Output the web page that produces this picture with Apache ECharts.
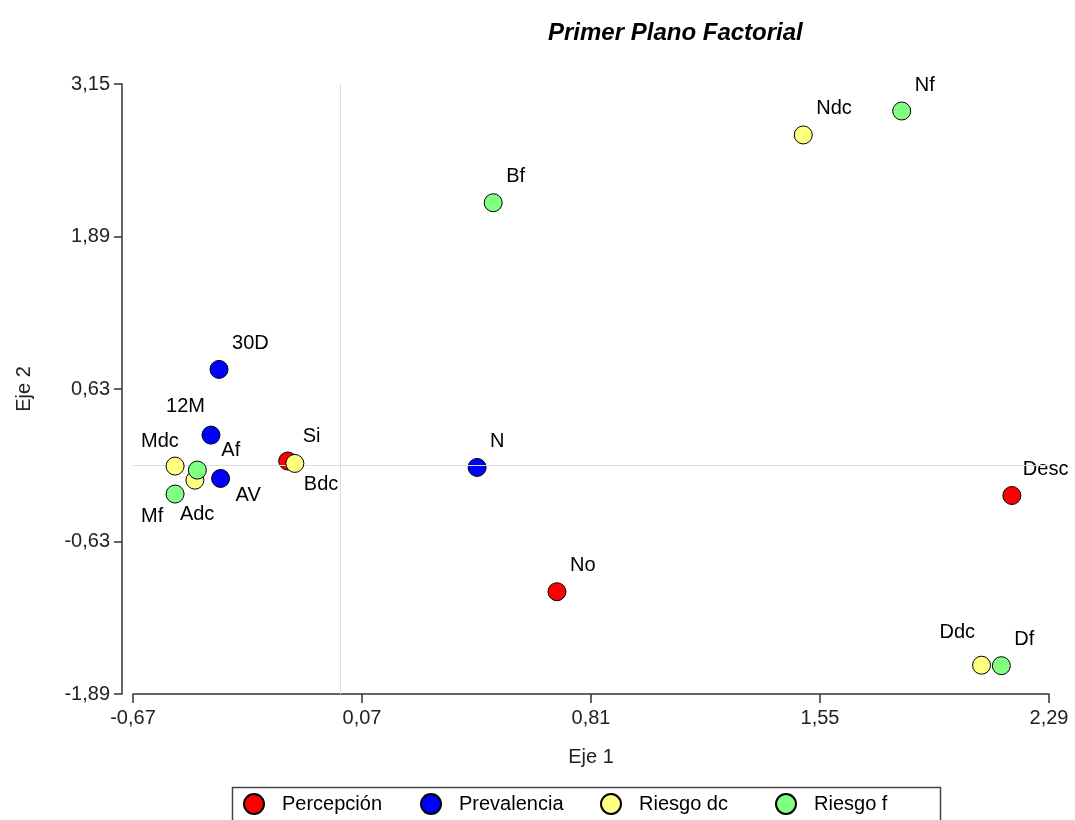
<!DOCTYPE html>
<html>
<head>
<meta charset="utf-8">
<script src="https://cdn.jsdelivr.net/npm/echarts@6/dist/echarts.min.js"></script>
<style>
html,body{margin:0;padding:0;background:#fff;}
#chart{width:1075px;height:820px;}
</style>
</head>
<body>
<div id="chart"></div>
<script>
// ---- data ----
const seriesNames = ['Percepción', 'Prevalencia', 'Riesgo dc', 'Riesgo f'];

const percepcionLabels = ['Si', 'No', 'Desc'];
const percepcionX = [-0.17, 0.70, 2.17];
const percepcionY = [0.035, -1.045, -0.25];

const prevalenciaLabels = ['30D', '12M', 'AV', 'N'];
const prevalenciaX = [-0.392, -0.418, -0.387, 0.442];
const prevalenciaY = [0.792, 0.249, -0.109, -0.018];

const riesgoDcLabels = ['Ndc', 'Mdc', 'Adc', 'Bdc', 'Ddc'];
const riesgoDcX = [1.496, -0.534, -0.47, -0.147, 2.072];
const riesgoDcY = [2.729, -0.007, -0.123, 0.015, -1.652];

const riesgoFLabels = ['Nf', 'Bf', 'Af', 'Mf', 'Df'];
const riesgoFX = [1.814, 0.494, -0.462, -0.534, 2.136];
const riesgoFY = [2.927, 2.169, -0.04, -0.238, -1.656];

const xTicks = [-0.67, 0.07, 0.81, 1.55, 2.29];
const yTicks = [-1.89, -0.63, 0.63, 1.89, 3.15];

// ---- styling (label placement relative to point centre) ----
const colors = ['#FF0000', '#0000FF', '#FFFF80', '#80FF80'];
const legendLefts = [243, 420, 600, 775];
const defaultLabelOffset = {align: 'left', dx: 13, dy: -26};
const labelOffsets = {
  '12M': {align: 'right', dx: -6, dy: -29},
  'Mdc': {align: 'left', dx: -34, dy: -25},
  'Af':  {align: 'left', dx: 24, dy: -20},
  'Adc': {align: 'left', dx: -15, dy: 34},
  'Mf':  {align: 'left', dx: -34, dy: 22},
  'AV':  {align: 'left', dx: 15, dy: 17},
  'Bdc': {align: 'left', dx: 9, dy: 21},
  'Ddc': {align: 'left', dx: -42, dy: -33},
  'Desc': {align: 'left', dx: 11, dy: -26},
  'Si': {align: 'left', dx: 15, dy: -25}
};

const FONT = '"Liberation Sans", Arial, sans-serif';

function buildData(labels, xs, ys) {
  return labels.map((name, i) => {
    const o = labelOffsets[name] || defaultLabelOffset;
    return {
      name: name,
      value: [xs[i], ys[i]],
      label: {align: o.align, offset: [o.dx, o.dy]}
    };
  });
}

const groups = [
  buildData(percepcionLabels, percepcionX, percepcionY),
  buildData(prevalenciaLabels, prevalenciaX, prevalenciaY),
  buildData(riesgoDcLabels, riesgoDcX, riesgoDcY),
  buildData(riesgoFLabels, riesgoFX, riesgoFY)
];

const fmt = v => (Math.round(v * 100) / 100).toFixed(2).replace('.', ',');

const series = groups.map((data, i) => ({
  name: seriesNames[i],
  type: 'scatter',
  symbol: 'circle',
  symbolSize: 18,
  data: data,
  itemStyle: {color: colors[i], borderColor: '#000', borderWidth: 1, opacity: 1},
  label: {
    show: true,
    position: 'inside',
    verticalAlign: 'middle',
    color: '#000',
    fontFamily: FONT,
    fontSize: 20,
    textBorderWidth: 0,
    formatter: p => p.name
  },
  emphasis: {disabled: true},
  z: 3 + i
}));

// reference lines at 0
series.unshift({
  name: 'ref',
  type: 'scatter',
  data: [],
  silent: true,
  z: 1,
  markLine: {
    silent: true,
    symbol: 'none',
    label: {show: false},
    lineStyle: {color: '#dcdcdc', type: 'solid', width: 1},
    data: [{xAxis: 0}, {yAxis: 0}],
    animation: false
  }
});

const legends = seriesNames.map((n, i) => ({
  data: [n],
  left: legendLefts[i],
  top: 793,
  padding: 0,
  itemGap: 0,
  itemWidth: 20,
  itemHeight: 20,
  icon: 'circle',
  selectedMode: false,
  textStyle: {fontFamily: FONT, fontSize: 20, color: '#000', padding: [0, 0, 0, 13]}
}));

const chart = echarts.init(document.getElementById('chart'), null, {renderer: 'canvas'});
chart.setOption({
  animation: false,
  backgroundColor: '#fff',
  title: {
    text: 'Primer Plano Factorial',
    left: 543,
    top: 16,
    textStyle: {fontFamily: FONT, fontSize: 24, fontWeight: 'bold', fontStyle: 'italic', color: '#000'}
  },
  grid: {left: 133, right: 26, top: 84, bottom: 126, containLabel: false},
  legend: legends,
  graphic: [{
    type: 'rect',
    left: 230,
    top: 785,
    shape: {width: 708, height: 50},
    style: {fill: 'none', stroke: '#444', lineWidth: 1.5},
    silent: true
  }],
  xAxis: {
    type: 'value',
    min: xTicks[0],
    max: xTicks[xTicks.length - 1],
    name: 'Eje 1',
    nameLocation: 'middle',
    nameGap: 53,
    nameTextStyle: {fontFamily: FONT, fontSize: 20, color: '#222'},
    axisLine: {onZero: false, lineStyle: {color: '#333', width: 1.5}},
    axisTick: {show: true, length: 9, customValues: xTicks, lineStyle: {color: '#333', width: 1.5}},
    axisLabel: {customValues: xTicks, formatter: fmt, fontFamily: FONT, fontSize: 20, color: '#222', margin: 14},
    splitLine: {show: false}
  },
  yAxis: {
    type: 'value',
    min: yTicks[0],
    max: yTicks[yTicks.length - 1],
    offset: 11,
    name: 'Eje 2',
    nameLocation: 'middle',
    nameGap: 88,
    nameTextStyle: {fontFamily: FONT, fontSize: 20, color: '#222'},
    axisLine: {onZero: false, lineStyle: {color: '#333', width: 1.5}},
    axisTick: {show: true, length: 8, customValues: yTicks, lineStyle: {color: '#333', width: 1.5}},
    axisLabel: {customValues: yTicks, formatter: fmt, fontFamily: FONT, fontSize: 20, color: '#222', margin: 12},
    splitLine: {show: false}
  },
  series: series
});
</script>
</body>
</html>
